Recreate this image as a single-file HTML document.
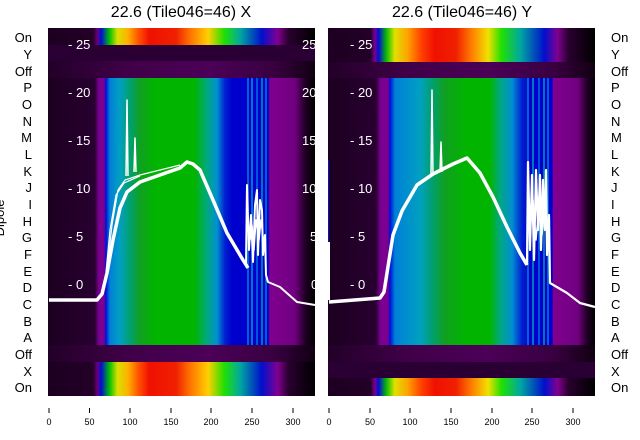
<!DOCTYPE html>
<html><head><meta charset="utf-8"><style>
body{margin:0;background:#fff;width:640px;height:440px;overflow:hidden}
svg{display:block;font-family:"Liberation Sans","DejaVu Sans",sans-serif}
</style></head><body>
<svg width="640" height="440" viewBox="0 0 640 440">
<defs>
<linearGradient id="LOn" gradientUnits="userSpaceOnUse" x1="48" x2="315" y1="0" y2="0">
<stop offset="0" stop-color="#1c0020"/><stop offset="0.17" stop-color="#240028"/>
<stop offset="0.185" stop-color="#6a0080"/><stop offset="0.2" stop-color="#0010d0"/>
<stop offset="0.23" stop-color="#00c000"/><stop offset="0.26" stop-color="#d8e000"/>
<stop offset="0.3" stop-color="#ffb000"/><stop offset="0.34" stop-color="#ff5000"/>
<stop offset="0.38" stop-color="#f01000"/><stop offset="0.48" stop-color="#f02000"/>
<stop offset="0.53" stop-color="#ff7000"/><stop offset="0.6" stop-color="#ffd000"/>
<stop offset="0.66" stop-color="#20e000"/><stop offset="0.72" stop-color="#00a8a0"/>
<stop offset="0.8" stop-color="#0010cc"/><stop offset="0.86" stop-color="#800090"/>
<stop offset="0.9" stop-color="#2a0030"/><stop offset="1" stop-color="#000"/>
</linearGradient>
<linearGradient id="LMid" gradientUnits="userSpaceOnUse" x1="48" x2="315" y1="0" y2="0">
<stop offset="0" stop-color="#1c0020"/><stop offset="0.175" stop-color="#280030"/>
<stop offset="0.19" stop-color="#780090"/><stop offset="0.21" stop-color="#7a0090"/>
<stop offset="0.217" stop-color="#0010d8"/><stop offset="0.232" stop-color="#0080d8"/>
<stop offset="0.27" stop-color="#00a0c0"/><stop offset="0.307" stop-color="#00a070"/>
<stop offset="0.345" stop-color="#10a020"/><stop offset="0.40" stop-color="#00b400"/>
<stop offset="0.55" stop-color="#00b400"/><stop offset="0.596" stop-color="#00a880"/>
<stop offset="0.633" stop-color="#0090d0"/><stop offset="0.663" stop-color="#0020d0"/>
<stop offset="0.69" stop-color="#0000cc"/><stop offset="0.824" stop-color="#0000d0"/>
<stop offset="0.831" stop-color="#800090"/><stop offset="0.925" stop-color="#700080"/>
<stop offset="0.963" stop-color="#200025"/><stop offset="1" stop-color="#000"/>
</linearGradient>
<linearGradient id="LOff" gradientUnits="userSpaceOnUse" x1="48" x2="315" y1="0" y2="0">
<stop offset="0" stop-color="#220028"/><stop offset="0.3" stop-color="#400048"/>
<stop offset="0.6" stop-color="#4c0058"/><stop offset="0.85" stop-color="#380040"/>
<stop offset="1" stop-color="#100010"/>
</linearGradient>
<linearGradient id="ROn" gradientUnits="userSpaceOnUse" x1="328" x2="595" y1="0" y2="0">
<stop offset="0" stop-color="#1c0020"/><stop offset="0.16" stop-color="#240028"/>
<stop offset="0.175" stop-color="#7a0090"/><stop offset="0.19" stop-color="#0010d0"/>
<stop offset="0.22" stop-color="#10c000"/><stop offset="0.25" stop-color="#e0e000"/>
<stop offset="0.3" stop-color="#ffa000"/><stop offset="0.35" stop-color="#ff4000"/>
<stop offset="0.4" stop-color="#f01000"/><stop offset="0.48" stop-color="#f02000"/>
<stop offset="0.54" stop-color="#ff8000"/><stop offset="0.6" stop-color="#f0e000"/>
<stop offset="0.65" stop-color="#20e000"/><stop offset="0.72" stop-color="#00a8a0"/>
<stop offset="0.81" stop-color="#0010cc"/><stop offset="0.86" stop-color="#800090"/>
<stop offset="0.9" stop-color="#2a0030"/><stop offset="1" stop-color="#000"/>
</linearGradient>
<linearGradient id="RMid" gradientUnits="userSpaceOnUse" x1="328" x2="595" y1="0" y2="0">
<stop offset="0" stop-color="#1c0020"/><stop offset="0.18" stop-color="#280030"/>
<stop offset="0.195" stop-color="#780090"/><stop offset="0.225" stop-color="#7a0090"/>
<stop offset="0.232" stop-color="#0010d8"/><stop offset="0.251" stop-color="#0080d8"/>
<stop offset="0.345" stop-color="#00a0c0"/><stop offset="0.39" stop-color="#00a070"/>
<stop offset="0.438" stop-color="#10a020"/><stop offset="0.513" stop-color="#00b400"/>
<stop offset="0.607" stop-color="#00b400"/><stop offset="0.644" stop-color="#00a880"/>
<stop offset="0.689" stop-color="#0090d0"/><stop offset="0.727" stop-color="#0020d0"/>
<stop offset="0.757" stop-color="#0000cc"/><stop offset="0.84" stop-color="#0000d0"/>
<stop offset="0.843" stop-color="#800090"/><stop offset="0.936" stop-color="#700080"/>
<stop offset="0.97" stop-color="#200025"/><stop offset="1" stop-color="#000"/>
</linearGradient>
<linearGradient id="ROff" gradientUnits="userSpaceOnUse" x1="328" x2="595" y1="0" y2="0">
<stop offset="0" stop-color="#220028"/><stop offset="0.3" stop-color="#400048"/>
<stop offset="0.6" stop-color="#4c0058"/><stop offset="0.85" stop-color="#380040"/>
<stop offset="1" stop-color="#100010"/>
</linearGradient>
</defs>

<text x="181" y="17" font-size="16" text-anchor="middle">22.6 (Tile046=46) X</text>
<text x="462" y="17" font-size="16" text-anchor="middle">22.6 (Tile046=46) Y</text>

<!-- left panel -->
<rect x="48" y="28" width="267" height="17" fill="url(#LOn)"/>
<rect x="48" y="45" width="267" height="16" fill="#2a0034"/>
<rect x="48" y="61" width="267" height="17" fill="url(#LOff)"/>
<rect x="48" y="78" width="267" height="267" fill="url(#LMid)"/>
<rect x="48" y="345" width="267" height="17" fill="url(#LOff)"/>
<rect x="48" y="362" width="267" height="34" fill="url(#LOn)"/>
<g stroke-width="1.2">
<line x1="248" y1="78" x2="248" y2="345" stroke="#00a0d0"/>
<line x1="252" y1="78" x2="252" y2="345" stroke="#00c0c0"/>
<line x1="257" y1="78" x2="257" y2="345" stroke="#0090e0"/>
<line x1="262" y1="78" x2="262" y2="345" stroke="#00c0a0"/>
<line x1="266" y1="78" x2="266" y2="345" stroke="#00a0d0"/>
</g>
<g fill="none" stroke="#fff" stroke-linejoin="round">
<polyline stroke-width="3.5" points="49,300 97,300 102,294 107,273 113,240 120,208 127,192 140,182 160,175 180,168 187,162 193,164 200,170 213,200 227,233 243,260 248,268"/>
<polyline stroke-width="1.2" points="107,270 112,225 118,190 125,180 140,175 160,170 180,165"/>
<polyline stroke-width="1.2" points="106,272 110,230 116,195 124,183 140,176"/>
<polyline stroke-width="1.5" points="126,176 127,100 128,176"/>
<polyline stroke-width="1.5" points="134,172 135,138 136,172"/>
<polyline stroke-width="2" points="246,265 247,185 249,250 251,215 253,262 255,205 257,190 258,255 260,200 262,210 263,255 265,235 266,275 268,282 280,287 297,302 315,305"/>
<polyline stroke-width="1.5" points="250,240 252,225 254,250 256,220 259,240 261,220 264,245"/>
</g>
<g fill="#fff" font-size="13">
<text x="68" y="49">- 25</text><text x="68" y="97">- 20</text><text x="68" y="145">- 15</text>
<text x="68" y="193">- 10</text><text x="68" y="241">- 5</text><text x="68" y="289">- 0</text>
<text x="302" y="49">25</text><text x="302" y="97">20</text><text x="302" y="145">15</text>
<text x="302" y="193">10</text><text x="310" y="241">5</text><text x="311" y="289">0</text>
</g>
<rect x="315" y="28" width="13" height="370" fill="#fff"/>

<!-- right panel -->
<rect x="328" y="28" width="267" height="34" fill="url(#ROn)"/>
<rect x="328" y="62" width="267" height="16" fill="url(#ROff)"/>
<rect x="328" y="78" width="267" height="267" fill="url(#RMid)"/>
<rect x="328" y="345" width="267" height="17" fill="url(#ROff)"/>
<rect x="328" y="362" width="267" height="16" fill="#2a0034"/>
<rect x="328" y="378" width="267" height="18" fill="url(#ROn)"/>
<rect x="328" y="160" width="1" height="130" fill="#0010d0"/>
<g stroke-width="1.2">
<line x1="528" y1="78" x2="528" y2="345" stroke="#00a0d0"/>
<line x1="533" y1="78" x2="533" y2="345" stroke="#00c0c0"/>
<line x1="539" y1="78" x2="539" y2="345" stroke="#0090e0"/>
<line x1="544" y1="78" x2="544" y2="345" stroke="#00c0a0"/>
<line x1="548" y1="78" x2="548" y2="345" stroke="#00a0d0"/>
</g>
<g fill="none" stroke="#fff" stroke-linejoin="round">
<polyline stroke-width="2" points="329,242 329,300"/>
<polyline stroke-width="3.5" points="329,302 380,298 384,292 387,273 393,235 402,211 417,185 433,174 453,164 467,158 480,173 493,197 507,227 520,253 527,265"/>
<polyline stroke-width="1.5" points="431,175 432,90 433,175"/>
<polyline stroke-width="1.5" points="440,172 441,142 442,172"/>
<polyline stroke-width="2.2" points="527,265 528,162 530,250 532,175 534,260 536,170 538,230 540,175 541,250 543,180 545,230 546,170 547,255 549,215 550,283 567,293 580,303 595,307"/>
<polyline stroke-width="1.5" points="530,230 533,200 536,240 539,205 542,235 545,200"/>
</g>
<g fill="#fff" font-size="13">
<text x="350" y="49">- 25</text><text x="350" y="97">- 20</text><text x="350" y="145">- 15</text>
<text x="350" y="193">- 10</text><text x="350" y="241">- 5</text><text x="350" y="289">- 0</text>
</g>

<g font-size="13" fill="#000" text-anchor="end">
<text x="32" y="42">On</text><text x="32" y="59">Y</text><text x="32" y="76">Off</text>
<text x="32" y="92">P</text><text x="32" y="109">O</text><text x="32" y="126">N</text>
<text x="32" y="142">M</text><text x="32" y="159">L</text><text x="32" y="176">K</text>
<text x="32" y="192">J</text><text x="32" y="209">I</text><text x="32" y="226">H</text>
<text x="32" y="242">G</text><text x="32" y="259">F</text><text x="32" y="276">E</text>
<text x="32" y="292">D</text><text x="32" y="309">C</text><text x="32" y="326">B</text>
<text x="32" y="342">A</text><text x="32" y="359">Off</text><text x="32" y="376">X</text>
<text x="32" y="392">On</text>
</g>
<g font-size="13" fill="#000">
<text x="611" y="42">On</text><text x="611" y="59">Y</text><text x="611" y="76">Off</text>
<text x="611" y="92">P</text><text x="611" y="109">O</text><text x="611" y="126">N</text>
<text x="611" y="142">M</text><text x="611" y="159">L</text><text x="611" y="176">K</text>
<text x="611" y="192">J</text><text x="611" y="209">I</text><text x="611" y="226">H</text>
<text x="611" y="242">G</text><text x="611" y="259">F</text><text x="611" y="276">E</text>
<text x="611" y="292">D</text><text x="611" y="309">C</text><text x="611" y="326">B</text>
<text x="611" y="342">A</text><text x="611" y="359">Off</text><text x="611" y="376">X</text>
<text x="611" y="392">On</text>
</g>
<text transform="translate(4,218) rotate(-90)" font-size="13" text-anchor="middle">Dipole</text>

<g stroke="#000" stroke-width="1">
<line x1="49" y1="408" x2="49" y2="413"/><line x1="89.5" y1="408" x2="89.5" y2="413"/>
<line x1="130" y1="408" x2="130" y2="413"/><line x1="171" y1="408" x2="171" y2="413"/>
<line x1="211" y1="408" x2="211" y2="413"/><line x1="252" y1="408" x2="252" y2="413"/>
<line x1="293" y1="408" x2="293" y2="413"/>
<line x1="329" y1="408" x2="329" y2="413"/><line x1="370" y1="408" x2="370" y2="413"/>
<line x1="410" y1="408" x2="410" y2="413"/><line x1="451" y1="408" x2="451" y2="413"/>
<line x1="492" y1="408" x2="492" y2="413"/><line x1="532" y1="408" x2="532" y2="413"/>
<line x1="573" y1="408" x2="573" y2="413"/>
</g>
<g font-size="9" text-anchor="middle">
<text x="49" y="425">0</text><text x="89.5" y="425">50</text><text x="130" y="425">100</text>
<text x="171" y="425">150</text><text x="211" y="425">200</text><text x="252" y="425">250</text>
<text x="293" y="425">300</text>
<text x="329" y="425">0</text><text x="370" y="425">50</text><text x="410" y="425">100</text>
<text x="451" y="425">150</text><text x="492" y="425">200</text><text x="532" y="425">250</text>
<text x="573" y="425">300</text>
</g>
</svg>
</body></html>
